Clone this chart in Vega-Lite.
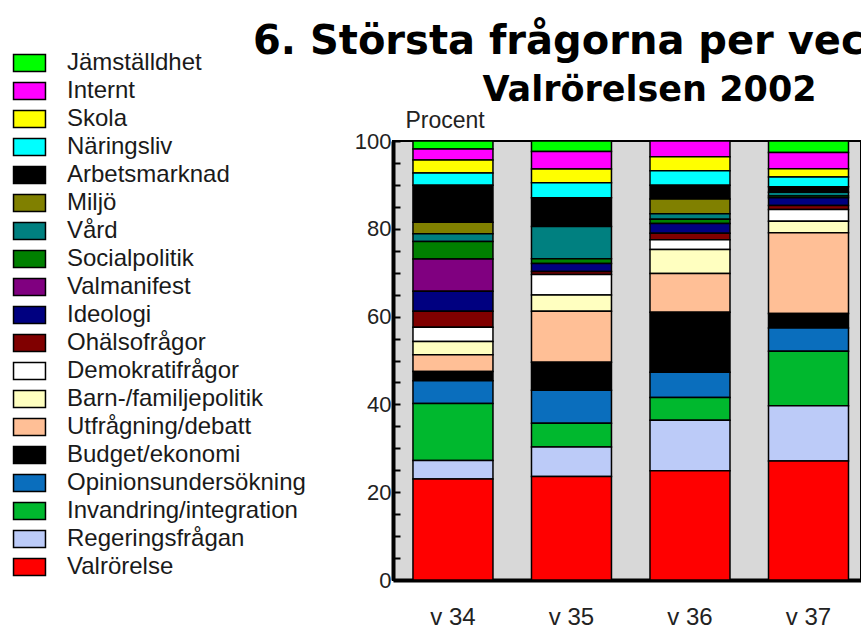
{
  "$schema": "https://vega.github.io/schema/vega-lite/v6.json",
  "width": 468,
  "height": 439,
  "autosize": {"type": "none"},
  "padding": {"left": 393, "top": 141, "right": 0, "bottom": 48},
  "background": "#ffffff",
  "title": {
    "text": "6. Största frågorna per vecka",
    "anchor": "start",
    "frame": "group",
    "dx": -140,
    "dy": 21,
    "font": "DejaVu Sans",
    "fontSize": 40,
    "fontWeight": "bold",
    "color": "#000000",
    "offset": 10
  },
  "data": {
    "values": [
      {"vecka": "v 34", "nr": 1, "fraga": "Jämställdhet", "andel": 1.8},
      {"vecka": "v 34", "nr": 2, "fraga": "Internt", "andel": 2.5},
      {"vecka": "v 34", "nr": 3, "fraga": "Skola", "andel": 3.0},
      {"vecka": "v 34", "nr": 4, "fraga": "Näringsliv", "andel": 2.8},
      {"vecka": "v 34", "nr": 5, "fraga": "Arbetsmarknad", "andel": 8.4},
      {"vecka": "v 34", "nr": 6, "fraga": "Miljö", "andel": 2.6},
      {"vecka": "v 34", "nr": 7, "fraga": "Vård", "andel": 1.8},
      {"vecka": "v 34", "nr": 8, "fraga": "Socialpolitik", "andel": 4.0},
      {"vecka": "v 34", "nr": 9, "fraga": "Valmanifest", "andel": 7.3},
      {"vecka": "v 34", "nr": 10, "fraga": "Ideologi", "andel": 4.6},
      {"vecka": "v 34", "nr": 11, "fraga": "Ohälsofrågor", "andel": 3.6},
      {"vecka": "v 34", "nr": 12, "fraga": "Demokratifrågor", "andel": 3.3},
      {"vecka": "v 34", "nr": 13, "fraga": "Barn-/familjepolitik", "andel": 3.0},
      {"vecka": "v 34", "nr": 14, "fraga": "Utfrågning/debatt", "andel": 3.8},
      {"vecka": "v 34", "nr": 15, "fraga": "Budget/ekonomi", "andel": 2.1},
      {"vecka": "v 34", "nr": 16, "fraga": "Opinionsundersökning", "andel": 5.2},
      {"vecka": "v 34", "nr": 17, "fraga": "Invandring/integration", "andel": 13.0},
      {"vecka": "v 34", "nr": 18, "fraga": "Regeringsfrågan", "andel": 4.2},
      {"vecka": "v 34", "nr": 19, "fraga": "Valrörelse", "andel": 23.0},

      {"vecka": "v 35", "nr": 1, "fraga": "Jämställdhet", "andel": 2.4},
      {"vecka": "v 35", "nr": 2, "fraga": "Internt", "andel": 4.0},
      {"vecka": "v 35", "nr": 3, "fraga": "Skola", "andel": 3.1},
      {"vecka": "v 35", "nr": 4, "fraga": "Näringsliv", "andel": 3.4},
      {"vecka": "v 35", "nr": 5, "fraga": "Arbetsmarknad", "andel": 6.6},
      {"vecka": "v 35", "nr": 7, "fraga": "Vård", "andel": 7.3},
      {"vecka": "v 35", "nr": 8, "fraga": "Socialpolitik", "andel": 1.1},
      {"vecka": "v 35", "nr": 10, "fraga": "Ideologi", "andel": 1.8},
      {"vecka": "v 35", "nr": 11, "fraga": "Ohälsofrågor", "andel": 0.7},
      {"vecka": "v 35", "nr": 12, "fraga": "Demokratifrågor", "andel": 4.7},
      {"vecka": "v 35", "nr": 13, "fraga": "Barn-/familjepolitik", "andel": 3.7},
      {"vecka": "v 35", "nr": 14, "fraga": "Utfrågning/debatt", "andel": 11.6},
      {"vecka": "v 35", "nr": 15, "fraga": "Budget/ekonomi", "andel": 6.4},
      {"vecka": "v 35", "nr": 16, "fraga": "Opinionsundersökning", "andel": 7.5},
      {"vecka": "v 35", "nr": 17, "fraga": "Invandring/integration", "andel": 5.4},
      {"vecka": "v 35", "nr": 18, "fraga": "Regeringsfrågan", "andel": 6.7},
      {"vecka": "v 35", "nr": 19, "fraga": "Valrörelse", "andel": 23.6},

      {"vecka": "v 36", "nr": 2, "fraga": "Internt", "andel": 3.6},
      {"vecka": "v 36", "nr": 3, "fraga": "Skola", "andel": 3.2},
      {"vecka": "v 36", "nr": 4, "fraga": "Näringsliv", "andel": 3.3},
      {"vecka": "v 36", "nr": 5, "fraga": "Arbetsmarknad", "andel": 3.1},
      {"vecka": "v 36", "nr": 6, "fraga": "Miljö", "andel": 3.4},
      {"vecka": "v 36", "nr": 7, "fraga": "Vård", "andel": 1.2},
      {"vecka": "v 36", "nr": 8, "fraga": "Socialpolitik", "andel": 1.0},
      {"vecka": "v 36", "nr": 10, "fraga": "Ideologi", "andel": 2.2},
      {"vecka": "v 36", "nr": 11, "fraga": "Ohälsofrågor", "andel": 1.5},
      {"vecka": "v 36", "nr": 12, "fraga": "Demokratifrågor", "andel": 2.2},
      {"vecka": "v 36", "nr": 13, "fraga": "Barn-/familjepolitik", "andel": 5.5},
      {"vecka": "v 36", "nr": 14, "fraga": "Utfrågning/debatt", "andel": 8.8},
      {"vecka": "v 36", "nr": 15, "fraga": "Budget/ekonomi", "andel": 13.7},
      {"vecka": "v 36", "nr": 16, "fraga": "Opinionsundersökning", "andel": 5.7},
      {"vecka": "v 36", "nr": 17, "fraga": "Invandring/integration", "andel": 5.2},
      {"vecka": "v 36", "nr": 18, "fraga": "Regeringsfrågan", "andel": 11.5},
      {"vecka": "v 36", "nr": 19, "fraga": "Valrörelse", "andel": 24.9},

      {"vecka": "v 37", "nr": 1, "fraga": "Jämställdhet", "andel": 2.6},
      {"vecka": "v 37", "nr": 2, "fraga": "Internt", "andel": 3.7},
      {"vecka": "v 37", "nr": 3, "fraga": "Skola", "andel": 1.9},
      {"vecka": "v 37", "nr": 4, "fraga": "Näringsliv", "andel": 2.2},
      {"vecka": "v 37", "nr": 5, "fraga": "Arbetsmarknad", "andel": 1.3},
      {"vecka": "v 37", "nr": 7, "fraga": "Vård", "andel": 0.8},
      {"vecka": "v 37", "nr": 8, "fraga": "Socialpolitik", "andel": 0.4},
      {"vecka": "v 37", "nr": 10, "fraga": "Ideologi", "andel": 1.8},
      {"vecka": "v 37", "nr": 11, "fraga": "Ohälsofrågor", "andel": 0.9},
      {"vecka": "v 37", "nr": 12, "fraga": "Demokratifrågor", "andel": 2.7},
      {"vecka": "v 37", "nr": 13, "fraga": "Barn-/familjepolitik", "andel": 2.6},
      {"vecka": "v 37", "nr": 14, "fraga": "Utfrågning/debatt", "andel": 18.4},
      {"vecka": "v 37", "nr": 15, "fraga": "Budget/ekonomi", "andel": 3.3},
      {"vecka": "v 37", "nr": 16, "fraga": "Opinionsundersökning", "andel": 5.3},
      {"vecka": "v 37", "nr": 17, "fraga": "Invandring/integration", "andel": 12.4},
      {"vecka": "v 37", "nr": 18, "fraga": "Regeringsfrågan", "andel": 12.6},
      {"vecka": "v 37", "nr": 19, "fraga": "Valrörelse", "andel": 27.1}
    ]
  },
  "mark": {"type": "bar", "stroke": "#000000", "strokeWidth": 1.5},
  "encoding": {
    "x": {
      "field": "vecka",
      "type": "nominal",
      "sort": ["v 34", "v 35", "v 36", "v 37"],
      "scale": {"paddingInner": 0.325, "paddingOuter": 0.137, "align": 0.615},
      "axis": {
        "title": "Valrörelsen 2002",
        "titleFont": "DejaVu Sans",
        "titleFontSize": 35,
        "titleFontWeight": "bold",
        "titleColor": "#000000",
        "titleX": 256,
        "titleY": -480,
        "titleAlign": "center",
        "titleBaseline": "alphabetic",
        "labelAngle": 0,
        "labelFont": "Liberation Sans",
        "labelFontSize": 24,
        "labelColor": "#222222",
        "labelBaseline": "alphabetic",
        "labelPadding": 44,
        "ticks": false,
        "domainColor": "#000000",
        "domainWidth": 4
      }
    },
    "y": {
      "field": "andel",
      "type": "quantitative",
      "stack": "zero",
      "scale": {"domain": [0, 100], "nice": false},
      "axis": {
        "values": [0, 5, 10, 15, 20, 25, 30, 35, 40, 45, 50, 55, 60, 65, 70, 75, 80, 85, 90, 95, 100],
        "labelExpr": "datum.value % 20 === 0 ? datum.label : ''",
        "labelOverlap": false,
        "labelFlush": false,
        "grid": false,
        "tickSize": -7,
        "tickWidth": 2,
        "tickColor": "#000000",
        "domainColor": "#000000",
        "domainWidth": 4,
        "labelFont": "Liberation Sans",
        "labelFontSize": 22,
        "labelColor": "#222222",
        "labelPadding": 9,
        "title": "Procent",
        "titleAngle": 0,
        "titleX": 12,
        "titleY": -14,
        "titleAlign": "left",
        "titleBaseline": "alphabetic",
        "titleFont": "Liberation Sans",
        "titleFontSize": 23,
        "titleFontWeight": "normal",
        "titleColor": "#222222"
      }
    },
    "order": {"field": "nr", "type": "quantitative", "sort": "descending"},
    "color": {
      "field": "fraga",
      "type": "nominal",
      "sort": ["Jämställdhet", "Internt", "Skola", "Näringsliv", "Arbetsmarknad", "Miljö", "Vård", "Socialpolitik", "Valmanifest", "Ideologi", "Ohälsofrågor", "Demokratifrågor", "Barn-/familjepolitik", "Utfrågning/debatt", "Budget/ekonomi", "Opinionsundersökning", "Invandring/integration", "Regeringsfrågan", "Valrörelse"],
      "scale": {
        "domain": ["Jämställdhet", "Internt", "Skola", "Näringsliv", "Arbetsmarknad", "Miljö", "Vård", "Socialpolitik", "Valmanifest", "Ideologi", "Ohälsofrågor", "Demokratifrågor", "Barn-/familjepolitik", "Utfrågning/debatt", "Budget/ekonomi", "Opinionsundersökning", "Invandring/integration", "Regeringsfrågan", "Valrörelse"],
        "range": ["#00ff00", "#ff00ff", "#ffff00", "#00ffff", "#000000", "#808000", "#008080", "#008000", "#800080", "#000080", "#800000", "#ffffff", "#ffffc0", "#ffbf96", "#000000", "#0a6ebd", "#00b82e", "#bccbf8", "#ff0000"]
      },
      "legend": {
        "orient": "none",
        "legendX": -375.5,
        "legendY": -90,
        "title": null,
        "symbolType": "M-1.88,-1H1.88V1H-1.88Z",
        "symbolSize": 289,
        "symbolStrokeColor": "#000000",
        "symbolStrokeWidth": 1.5,
        "symbolOpacity": 1,
        "labelFont": "Liberation Sans",
        "labelFontSize": 24,
        "labelColor": "#1a1a1a",
        "labelOffset": 25.5,
        "labelLimit": 400,
        "rowPadding": 4,
        "symbolLimit": 50
      }
    }
  },
  "config": {
    "view": {"fill": "#d8d8d8", "stroke": "#000000", "strokeWidth": 2}
  }
}
